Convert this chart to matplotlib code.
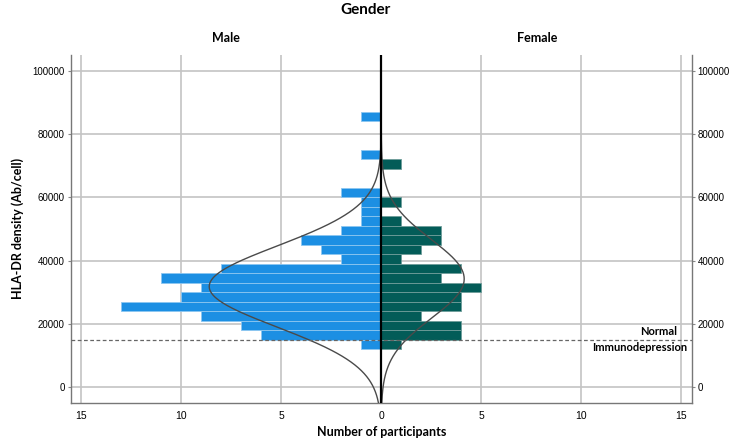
import numpy as np
import matplotlib.pyplot as plt

# histogram bins (lower edge, width 3000 Ab/cell)
bin_starts = [12000, 15000, 18000, 21000, 24000, 27000, 30000, 33000, 36000,
              39000, 42000, 45000, 48000, 51000, 54000, 57000, 60000, 63000,
              66000, 69000, 72000, 75000, 78000, 81000, 84000]
male_counts = [1, 6, 7, 9, 13, 10, 9, 11, 8, 2, 3, 4, 2, 1, 1, 1, 2, 0, 0, 0, 1, 0, 0, 0, 1]
female_counts = [1, 4, 4, 2, 4, 4, 5, 3, 4, 1, 2, 3, 3, 1, 0, 1, 0, 0, 0, 1, 0, 0, 0, 0, 0]
bin_width = 3000

# normal curve parameters
male_mean, male_sd = 31800, 12800
female_mean, female_sd = 34200, 12400

threshold = 15000
y_ticks = [0, 20000, 40000, 60000, 80000, 100000]
x_ticks = [-15, -10, -5, 0, 5, 10, 15]

male_color = '#1c8fe3'
female_color = '#035c58'
grid_color = '#c4c4c4'
bold_font = 'Lato'
tick_font = 'Liberation Sans'

fig = plt.figure(figsize=(7.31, 4.40), dpi=100)
ax = fig.add_axes([0.097, 0.085, 0.849, 0.79])

ax.set_xlim(-15.52, 15.52)
ax.set_ylim(-4900, 105000)

# grid
for yv in y_ticks:
    ax.axhline(yv, color=grid_color, lw=1.2, zorder=0)
for xv in x_ticks:
    if xv != 0:
        ax.axvline(xv, color=grid_color, lw=1.2, zorder=0)

ax.barh(bin_starts, [-c for c in male_counts], height=bin_width, align='edge',
        color=male_color, edgecolor='#8cc6f0', linewidth=0.6, zorder=2)
ax.barh(bin_starts, female_counts, height=bin_width, align='edge',
        color=female_color, edgecolor='#6f9d9a', linewidth=0.6, zorder=2)

# normal curves scaled to counts
yy = np.linspace(-4900, 105000, 600)
n_male = sum(male_counts)
n_female = sum(female_counts)
male_curve = n_male * bin_width / (male_sd * np.sqrt(2 * np.pi)) * np.exp(-0.5 * ((yy - male_mean) / male_sd) ** 2)
female_curve = n_female * bin_width / (female_sd * np.sqrt(2 * np.pi)) * np.exp(-0.5 * ((yy - female_mean) / female_sd) ** 2)
ax.plot(-male_curve, yy, color='#4a4a4a', lw=1.0, zorder=3)
ax.plot(female_curve, yy, color='#4a4a4a', lw=1.0, zorder=3)

ax.axvline(0, color='black', lw=1.6, zorder=4)
ax.axhline(threshold, color='#666666', lw=0.9, ls=(0, (3, 2)), zorder=3)

ax.text(14.8, threshold + 800, 'Normal', ha='right', va='bottom', fontsize=8,
        fontweight='bold', family=bold_font)
ax.text(15.3, threshold - 800, 'Immunodepression', ha='right', va='top', fontsize=8,
        fontweight='bold', family=bold_font)

ax.set_xticks(x_ticks)
ax.set_xticklabels([str(abs(v)) for v in x_ticks], family=tick_font, fontsize=7.5)
ax.set_yticks(y_ticks)
ax.set_yticklabels([str(v) for v in y_ticks], family=tick_font, fontsize=7)
ax.tick_params(axis='x', length=0, pad=6)
ax.tick_params(axis='y', length=2, color='#888888', right=True, labelright=True, pad=2.5)

ax.spines['top'].set_visible(False)
for side in ['left', 'right', 'bottom']:
    ax.spines[side].set_color('#777777')
    ax.spines[side].set_linewidth(1.0)

ax.set_xlabel('Number of participants', fontsize=9, fontweight='bold', family=bold_font, labelpad=4)
ax.set_ylabel('HLA-DR density (Ab/cell)', fontsize=9, fontweight='bold', family=bold_font, labelpad=6)

fig.text(0.5, 0.977, 'Gender', ha='center', va='center', fontsize=11, fontweight='bold', family=bold_font)
fig.text(226 / 731, 1 - 38 / 440, 'Male', ha='center', va='center', fontsize=9, fontweight='bold', family=bold_font)
fig.text(537 / 731, 1 - 38 / 440, 'Female', ha='center', va='center', fontsize=9, fontweight='bold', family=bold_font)

fig.savefig('out.png', dpi=100)
